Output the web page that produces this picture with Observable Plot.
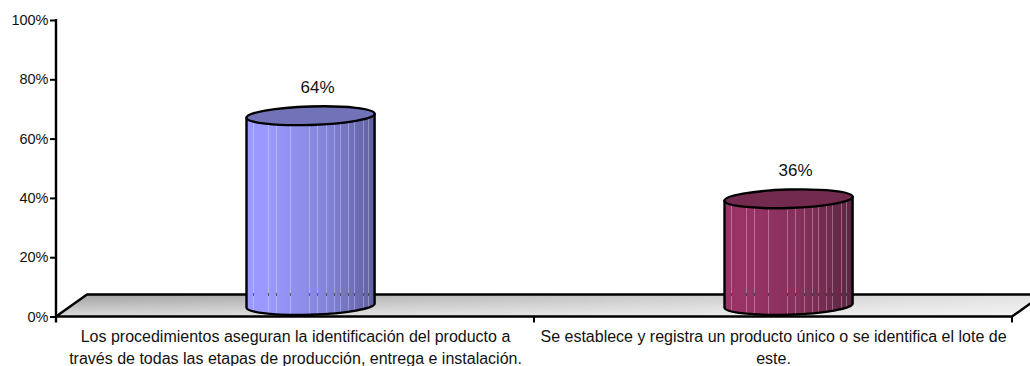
<!DOCTYPE html>
<html><head><meta charset="utf-8">
<script src="https://cdn.jsdelivr.net/npm/d3@7"></script>
<script src="https://cdn.jsdelivr.net/npm/@observablehq/plot@0.6"></script>
<style>html,body{margin:0;padding:0;background:#fff;overflow:hidden}svg{display:block}</style>
</head><body><div id="chart"></div>
<script>
const categories = [
  "Los procedimientos aseguran la identificación del producto a\ntravés de todas las etapas de producción, entrega e instalación.",
  "Se establece y registra un producto único o se identifica el lote de\neste."
];
const values = [0.64, 0.36];
const labels = ["64%", "36%"];
const yTicks = [0, 0.2, 0.4, 0.6, 0.8, 1];
const sideColors = [
  ["#9999ff", "#9999ff", "#8585dd", "#5f5f9f"],
  ["#993366", "#993366", "#85305a", "#5c2642"]
];
const topColors = ["#7272b8", "#732a4f"];
const stripes = [.05,.17,.23,.34,.49,.55,.62,.68,.73,.79,.84,.91,.95];
const paddingInner = 0.732, depthX = 31, depthY = 22;
const NS = "http://www.w3.org/2000/svg";
const el = (name, attrs, parent) => {
  const e = document.createElementNS(NS, name);
  for (const k in attrs) e.setAttribute(k, attrs[k]);
  if (parent) parent.appendChild(e);
  return e;
};

function floorRender(index, scales, v, dim) {
  const g = el("g", {});
  const defs = el("defs", {}, g);
  const lg = el("linearGradient", {id: "floorGrad", x1: 0, y1: 0, x2: 0, y2: 1}, defs);
  el("stop", {offset: "0", "stop-color": "#a0a0a0"}, lg);
  el("stop", {offset: "1", "stop-color": "#dcdcdc"}, lg);
  const lh = el("linearGradient", {id: "floorFade", x1: 0, y1: 0, x2: 1, y2: 0}, defs);
  el("stop", {offset: "0", "stop-color": "#fff", "stop-opacity": 0}, lh);
  el("stop", {offset: "1", "stop-color": "#fff", "stop-opacity": 0.7}, lh);
  const y0 = scales.y(0), xl = dim.marginLeft, xr = dim.width - dim.marginRight;
  const d = `M${xl},${y0}L${xl + depthX},${y0 - depthY}L${xr + depthX},${y0 - depthY}L${xr},${y0}Z`;
  el("path", {d, fill: "url(#floorGrad)"}, g);
  el("path", {d, fill: "url(#floorFade)", stroke: "#000", "stroke-width": 2.4, "stroke-linejoin": "round"}, g);
  el("line", {x1: xl, x2: xl, y1: dim.marginTop - 1, y2: y0 + 6, stroke: "#000", "stroke-width": 2.4}, g);
  const mid = (xl + xr) / 2;
  for (const x of [mid, xr]) el("line", {x1: x, x2: x, y1: y0, y2: y0 + 6, stroke: "#000", "stroke-width": 2}, g);
  return g;
}

function cylinderRender(index, scales, v) {
  const g = el("g", {});
  const defs = el("defs", {}, g);
  const step = scales.x(categories[1]) - scales.x(categories[0]);
  const w = step * (1 - paddingInner);
  const base = scales.y(0);
  for (const i of index) {
    const x = v.x[i] + depthX / 2, top = v.y2[i] - depthY / 2, bot = base - depthY / 2;
    const dy = 2, rx = Math.hypot(w, 2 * dy) / 2, ry = 9.2;
    const tilt = Math.atan2(-2 * dy, w) * 180 / Math.PI;
    const lg = el("linearGradient", {id: `cyl${i}`, x1: 0, y1: 0, x2: 1, y2: 0}, defs);
    [0, .18, .6, 1].forEach((o, k) => el("stop", {offset: o, "stop-color": sideColors[i][k]}, lg));
    const xL = x, xR = x + w;
    const body = `M${xL},${top + dy}L${xL},${bot + dy}A${rx},${ry} ${tilt} 0 0 ${xR},${bot - dy}L${xR},${top - dy}Z`;
    el("path", {d: body, fill: `url(#cyl${i})`}, g);
    const cp = el("clipPath", {id: `clip${i}`}, defs);
    el("path", {d: body}, cp);
    const s = el("g", {"clip-path": `url(#clip${i})`}, g);
    for (const f of stripes) {
      const sx = Math.round(xL + f * w) + .5;
      el("line", {x1: sx, x2: sx, y1: top - 12, y2: bot + 14, stroke: "#fff", "stroke-opacity": .3}, s);
      el("line", {x1: sx, x2: sx, y1: base - depthY - 1.5, y2: base - depthY + 1.5, stroke: "#000", "stroke-opacity": .5}, s);
    }
    el("path", {d: body, fill: "none", stroke: "#000", "stroke-width": 2.4, "stroke-linejoin": "round"}, g);
    el("path", {
      d: `M${xL},${top + dy}A${rx},${ry} ${tilt} 1 1 ${xR},${top - dy}A${rx},${ry} ${tilt} 1 1 ${xL},${top + dy}Z`,
      fill: topColors[i], stroke: "#000", "stroke-width": 2.4
    }, g);
  }
  return g;
}

const table = categories.map((c, i) => ({c, v: values[i], l: labels[i]}));
const chart = Plot.plot({
  width: 1030, height: 366,
  marginLeft: 56, marginRight: 18, marginTop: 20, marginBottom: 49.5,
  style: {fontFamily: "'Liberation Sans', Arial, sans-serif", background: "#fff", overflow: "hidden"},
  x: {domain: categories, paddingInner, paddingOuter: paddingInner / 2},
  y: {domain: [0, 1]},
  marks: [
    Plot.barY(table, {x: "c", y: "v", render: floorRender}),
    Plot.barY(table, {x: "c", y: "v", render: cylinderRender}),
    Plot.axisY({ticks: yTicks, tickFormat: d3.format(".0%"), tickSize: 6, tickPadding: 2, strokeWidth: 2, stroke: "#000", fontSize: 14.5, fill: "#111", label: null}),
    Plot.axisX({tickSize: 0, tickPadding: 10, fontSize: 16, fill: "#111", lineHeight: 1.35, label: null, tickFormat: d => d}),
    Plot.text(table, {x: "c", y: "v", text: "l", dx: 22, dy: -40, fontSize: 17, fill: "#111"})
  ]
});
document.getElementById("chart").appendChild(chart);
</script></body></html>
